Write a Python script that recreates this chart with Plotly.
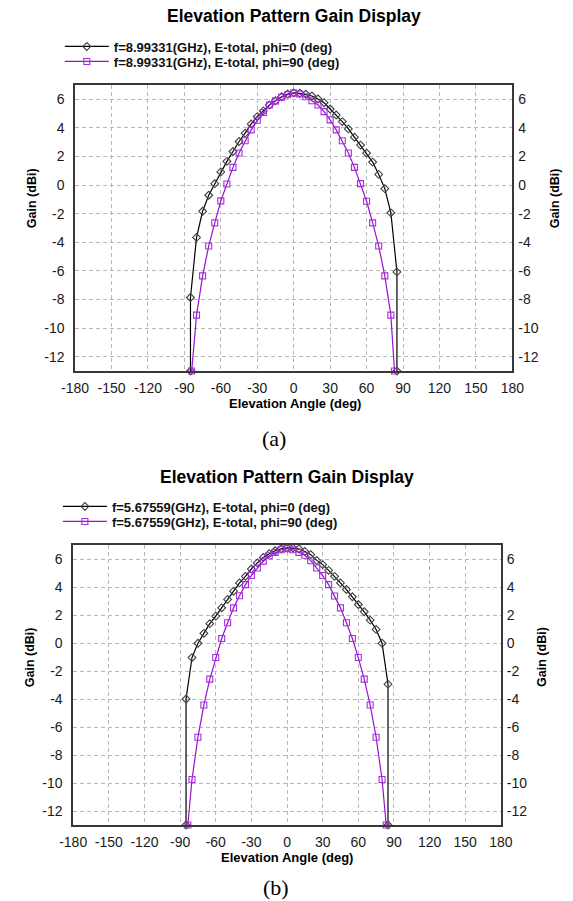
import plotly.graph_objects as go

W, H = 573, 901

# ---------------- data ----------------
TICK_X = [-180, -150, -120, -90, -60, -30, 0, 30, 60, 90, 120, 150, 180]
TICK_X_TEXT = ["-180", "-150", "-120", "-90", "-60", "-30", "0", "30", "60", "90", "120", "150", "180"]
TICK_Y = [-12, -10, -8, -6, -4, -2, 0, 2, 4, 6]
TICK_Y_TEXT = ["-12", "-10", "-8", "-6", "-4", "-2", "0", "2", "4", "6"]

NAME_A0 = "f=8.99331(GHz), E-total, phi=0 (deg)"
NAME_A90 = "f=8.99331(GHz), E-total, phi=90 (deg)"
NAME_B0 = "f=5.67559(GHz), E-total, phi=0 (deg)"
NAME_B90 = "f=5.67559(GHz), E-total, phi=90 (deg)"

ANG_A0 = [-85, -85, -80, -75, -70, -65, -60, -55, -50, -45, -40, -35, -30, -25, -20, -15, -10, -5,
          0, 5, 10, 15, 20, 25, 30, 35, 40, 45, 50, 55, 60, 65, 70, 75, 80, 85, 85]
GAIN_A0 = [-13, -7.86, -3.66, -1.83, -0.71, 0.10, 0.92, 1.66, 2.35, 3.05, 3.63, 4.28, 4.79, 5.19,
           5.60, 5.90, 6.18, 6.37, 6.45, 6.42, 6.35, 6.23, 6.02, 5.76, 5.32, 4.90, 4.44, 3.93,
           3.35, 2.80, 2.24, 1.61, 0.75, -0.25, -1.94, -6.07, -13]

ANG_A90 = [-84, -80, -75, -70, -65, -60, -55, -50, -45, -40, -35, -30, -25, -20, -15, -10, -5,
           0, 5, 10, 15, 20, 25, 30, 35, 40, 45, 50, 55, 60, 65, 70, 75, 80, 83]
GAIN_A90 = [-13, -9.09, -6.35, -4.26, -2.64, -1.10, 0.08, 1.24, 2.24, 3.10, 3.86, 4.53, 5.08,
            5.60, 5.89, 6.14, 6.32, 6.43, 6.37, 6.18, 5.90, 5.60, 5.14, 4.56, 3.86, 3.10, 2.24,
            1.24, 0.10, -1.13, -2.64, -4.26, -6.35, -9.09, -13]

ANG_B0 = [-85, -85, -80, -75, -70, -65, -60, -55, -50, -45, -40, -35, -30, -25, -20, -15, -10, -5,
          0, 5, 10, 15, 20, 25, 30, 35, 40, 45, 50, 55, 60, 65, 70, 75, 80, 85, 85]
GAIN_B0 = [-13, -4.00, -1.04, -0.02, 0.69, 1.38, 1.92, 2.51, 3.11, 3.70, 4.29, 4.76, 5.29, 5.72,
           6.11, 6.38, 6.59, 6.73, 6.80, 6.78, 6.73, 6.54, 6.31, 5.90, 5.60, 5.19, 4.76, 4.29,
           3.82, 3.30, 2.75, 2.23, 1.63, 0.97, -0.02, -2.94, -13]

ANG_B90 = [-83.5, -80, -75, -70, -65, -60, -55, -50, -45, -40, -35, -30, -25, -20, -15, -10, -5,
           0, 5, 10, 15, 20, 25, 30, 35, 40, 45, 50, 55, 60, 65, 70, 75, 80, 83.5]
GAIN_B90 = [-13, -9.75, -6.73, -4.43, -2.58, -1.04, 0.32, 1.45, 2.51, 3.37, 4.17, 4.82, 5.36,
            5.85, 6.23, 6.47, 6.66, 6.74, 6.66, 6.47, 6.27, 5.88, 5.36, 4.82, 4.17, 3.36, 2.51,
            1.45, 0.32, -1.04, -2.58, -4.43, -6.73, -9.75, -13]

# ---------------- style ----------------
SANS = "Liberation Sans, Arial, sans-serif"
SERIF = "Liberation Serif, Times New Roman, serif"
BLACK = "#000000"
BLACK_MK = "#404040"
PURPLE = "#9b10d0"
PURPLE_MK = "#a530d8"


def px_x(p):
    return p / W


def px_y(p):
    return 1 - p / H


fig = go.Figure()


def add_series(ang, gain, name, xa, ya, color, mkcolor, symbol, legend):
    fig.add_trace(go.Scatter(
        x=ang, y=gain, name=name, mode="lines+markers",
        xaxis=xa, yaxis=ya, legend=legend,
        line=dict(color=color, width=1.2),
        marker=dict(symbol=symbol, size=6, color=mkcolor, line=dict(width=1.1, color=mkcolor)),
        cliponaxis=False,
    ))


add_series(ANG_A0, GAIN_A0, NAME_A0, "x", "y", BLACK, BLACK_MK, "diamond-open", "legend")
add_series(ANG_A90, GAIN_A90, NAME_A90, "x", "y", PURPLE, PURPLE_MK, "square-open", "legend2")
add_series(ANG_B0, GAIN_B0, NAME_B0, "x2", "y2", BLACK, BLACK_MK, "diamond-open", "legend3")
add_series(ANG_B90, GAIN_B90, NAME_B90, "x2", "y2", PURPLE, PURPLE_MK, "square-open", "legend4")

# empty traces so the right-hand (mirrored) gain axes are drawn
for xa, ya in (("x", "y3"), ("x2", "y4")):
    fig.add_trace(go.Scatter(x=[], y=[], xaxis=xa, yaxis=ya, showlegend=False,
                             hoverinfo="skip", mode="lines"))

# panel geometry (pixels)
A = dict(l=64, r=522, t=85, b=371)
B = dict(l=62, r=510, t=545, b=825)

tickfont = dict(family=SANS, size=14, color="#1a1a1a")
common_x = dict(range=[-180, 180], tickvals=TICK_X, ticktext=TICK_X_TEXT, showgrid=True,
                gridcolor="#b8b8b8", griddash="4px,3px", gridwidth=1, zeroline=False,
                showline=True, linecolor="#383838", linewidth=1.6, mirror=True, ticks="",
                tickfont=tickfont, ticklabelstandoff=3)
common_y = dict(range=[-13, 7], tickvals=TICK_Y, ticktext=TICK_Y_TEXT, showgrid=True,
                gridcolor="#b8b8b8", griddash="4px,3px", gridwidth=1, zeroline=False,
                showline=True, linecolor="#383838", linewidth=1.6, mirror=True, ticks="",
                tickfont=tickfont, ticklabelstandoff=6)
right_y = dict(range=[-13, 7], tickvals=TICK_Y, ticktext=TICK_Y_TEXT, showgrid=False,
               zeroline=False, showline=False, ticks="", side="right", tickfont=tickfont,
               ticklabelstandoff=5)


def legend_cfg(xp, yp):
    return dict(x=px_x(xp), y=px_y(yp), xanchor="left", yanchor="middle",
                bgcolor="rgba(0,0,0,0)", borderwidth=0, itemwidth=44,
                font=dict(family=SANS, size=13, color="#111111", weight="bold"),
                tracegroupgap=0)


fig.update_layout(
    width=W, height=H, autosize=False,
    margin=dict(l=0, r=0, t=0, b=0),
    paper_bgcolor="white", plot_bgcolor="white",
    showlegend=True,
    xaxis=dict(domain=[px_x(A["l"]), px_x(A["r"])], anchor="y", **common_x),
    yaxis=dict(domain=[px_y(A["b"]), px_y(A["t"])], anchor="x", **common_y),
    yaxis3=dict(overlaying="y", anchor="x", **right_y),
    xaxis2=dict(domain=[px_x(B["l"]), px_x(B["r"])], anchor="y2", **common_x),
    yaxis2=dict(domain=[px_y(B["b"]), px_y(B["t"])], anchor="x2", **common_y),
    yaxis4=dict(overlaying="y2", anchor="x2", **right_y),
    legend=legend_cfg(48, 46.5),
    legend2=legend_cfg(48, 61.5),
    legend3=legend_cfg(46, 506.5),
    legend4=legend_cfg(46, 521.5),
)

annots = []


def text(x, y, s, size, family=SANS, weight="normal", angle=0):
    annots.append(dict(x=px_x(x), y=px_y(y), xref="paper", yref="paper", text=s,
                       showarrow=False, xanchor="center", yanchor="middle", textangle=angle,
                       font=dict(family=family, size=size, color="#000000", weight=weight)))


TITLE = "Elevation Pattern Gain Display"
XTITLE = "Elevation Angle (deg)"
YTITLE = "Gain (dBi)"

text(293, 16, TITLE, 17.5, weight="bold")
text(294, 403, XTITLE, 13, weight="bold")
text(19, 198, YTITLE, 12.5, weight="bold", angle=-90)
text(567, 198, YTITLE, 12.5, weight="bold", angle=-90)
text(272, 438, "(a)", 22, family=SERIF)

text(286, 477, TITLE, 17.5, weight="bold")
text(286, 857, XTITLE, 13, weight="bold")
text(17, 657, YTITLE, 12.5, weight="bold", angle=-90)
text(553, 657, YTITLE, 12.5, weight="bold", angle=-90)
text(274, 887, "(b)", 22, family=SERIF)

fig.update_layout(annotations=annots)

fig.write_html("out.html")
